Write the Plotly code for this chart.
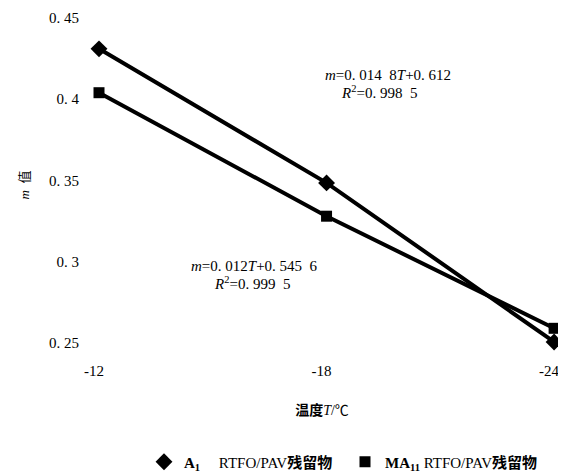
import plotly.graph_objects as go

temps = [-12, -18, -24]
tick_labels_x = ["-12", "-18", "-24"]
m_A1 = [0.431, 0.3485, 0.2506]
m_MA11 = [0.404, 0.328, 0.259]
y_ticks = [0.25, 0.30, 0.35, 0.40, 0.45]
y_tick_labels = ["0. 25", "0. 3", "0. 35", "0. 4", "0. 45"]

name_A = "<b>A<sub>1</sub></b>\u00a0\u00a0\u00a0\u00a0 RTFO/PAV<b>残留物</b>"
name_MA = "<b>MA<sub>11</sub></b> RTFO/PAV<b>残留物</b>"

fig = go.Figure()
fig.add_trace(go.Scatter(x=temps, y=m_A1, mode="lines+markers", showlegend=False,
                         cliponaxis=False,
                         line=dict(color="black", width=4),
                         marker=dict(symbol="diamond", size=13, color="black")))
fig.add_trace(go.Scatter(x=temps, y=m_MA11, mode="lines+markers", showlegend=False,
                         cliponaxis=False,
                         line=dict(color="black", width=4),
                         marker=dict(symbol="square", size=11, color="black")))
# legend entries (marker only, like the reference)
fig.add_trace(go.Scatter(x=[None], y=[None], mode="markers", name=name_A,
                         marker=dict(symbol="diamond", size=13, color="black")))
fig.add_trace(go.Scatter(x=[None], y=[None], mode="markers", name=name_MA,
                         marker=dict(symbol="square", size=11, color="black")))

serif = "Liberation Serif, Noto Sans CJK SC"
OFF = 8  # page body margin
W, H = 566 - OFF, 476 - OFF
L, R, T, B = 88 - OFF, 10, 10 - OFF, 116
pw, ph = W - L - R, H - T - B

def px(x):
    return (x - OFF - L) / pw

def py(y):
    return (H - B - (y - OFF)) / ph

anns = [
    ("<i>m</i>=0.\u00a0014\u00a0\u00a08<i>T</i>+0.\u00a0612", 388, 75),
    ("<i>R</i><sup>2</sup>=0.\u00a0998\u00a0\u00a05", 379, 92),
    ("<i>m</i>=0.\u00a0012<i>T</i>+0.\u00a0545\u00a0\u00a06", 254, 266),
    ("<i>R</i><sup>2</sup>=0.\u00a0999\u00a0\u00a05", 252, 283),
]
for text, x, y in anns:
    fig.add_annotation(text=text, x=px(x), y=py(y), xref="paper", yref="paper",
                       showarrow=False, xanchor="center", yanchor="middle",
                       font=dict(family=serif, size=15, color="black"))

fig.update_layout(
    width=W, height=H,
    margin=dict(l=L, r=R, t=T, b=B, autoexpand=False),
    paper_bgcolor="white", plot_bgcolor="white",
    font=dict(family=serif, size=13, color="black"),
    legend=dict(orientation="h", x=px(144), y=py(462), xanchor="left", yanchor="middle",
                font=dict(family=serif, size=15, color="black"),
                itemwidth=30, tracegroupgap=0, entrywidth=156, entrywidthmode="pixels",
                bgcolor="rgba(0,0,0,0)"),
    xaxis=dict(range=[-11.71, -24.05], tickvals=temps, ticktext=tick_labels_x,
               showgrid=False, zeroline=False, showline=False, ticks="",
               ticklabelshift=5,
               tickfont=dict(family=serif, size=15),
               title=dict(text="<b>温度</b><i>T</i>/℃", standoff=27,
                          font=dict(family=serif, size=14))),
    yaxis=dict(range=[0.2395, 0.4549], tickvals=y_ticks, ticktext=y_tick_labels,
               showgrid=False, zeroline=False, showline=False, ticks="",
               ticklabelstandoff=8,
               tickfont=dict(family=serif, size=15),
               title=dict(text="<i>m</i>\u00a0 值", standoff=16,
                          font=dict(family=serif, size=13))),
)

fig.write_html("out.html")
